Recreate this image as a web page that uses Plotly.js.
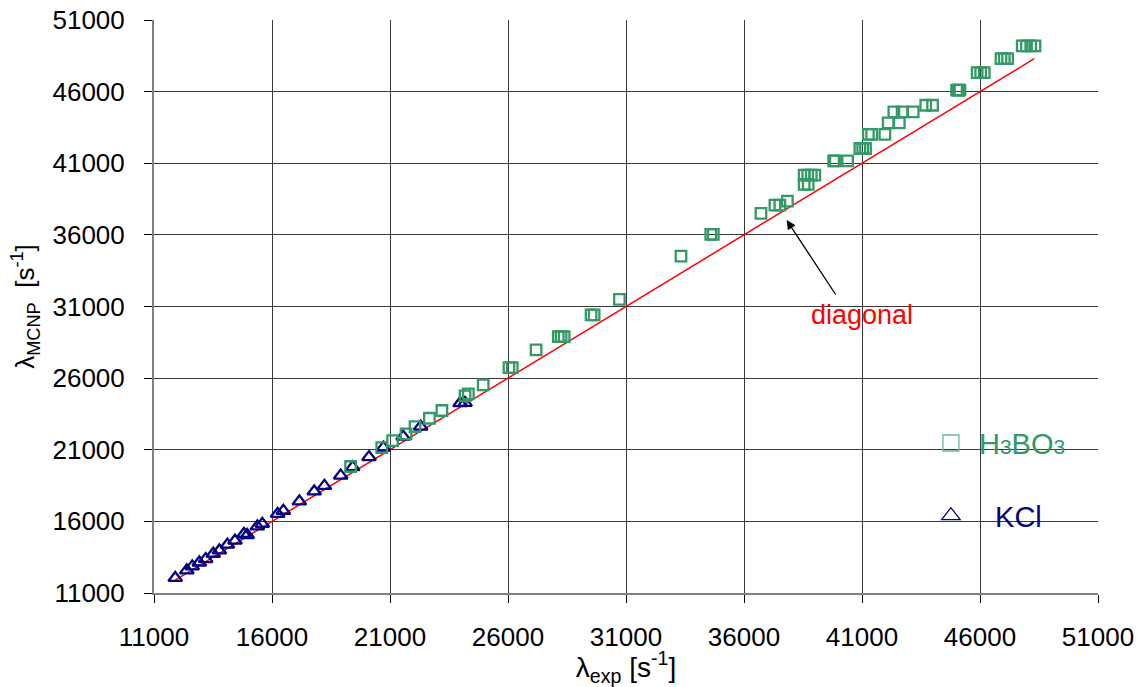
<!DOCTYPE html>
<html>
<head>
<meta charset="utf-8">
<script src="https://cdn.plot.ly/plotly-3.0.1.min.js"></script>
<style>html,body{margin:0;padding:0;background:#fff;}#chart{width:1144px;height:687px;}</style>
</head>
<body>
<div id="chart"></div>
<script>
// KCl measurements
const kclX = [11900, 12390, 12620, 12920, 13190, 13510, 13770, 14110, 14430, 14810, 14950, 15380, 15590, 16240, 16480, 17160, 17790, 18220, 18910, 19420, 20110, 20720, 21560, 22300, 23970, 24180];
const kclY = [12050, 12580, 12860, 13130, 13370, 13740, 13970, 14370, 14650, 15120, 15050, 15650, 15830, 16530, 16740, 17390, 18090, 18480, 19200, 19790, 20490, 21150, 21920, 22620, 24250, 24270];

// H3BO3 measurements
const boX = [19330, 20650, 21110, 21680, 22060, 22670, 23200, 24180, 24320, 24950,
  26040, 26180, 27190, 28130, 28250, 28380, 29520, 29650, 30720, 33330,
  34590, 34700, 36720, 37310, 37520, 37840, 38550, 38720, 38550, 38700,
  38850, 39000, 39800, 39870, 40390, 40910, 41030, 41150, 41270, 41410,
  41970, 42110, 42580, 42350, 42700, 43170, 43700, 43990, 45010, 45080,
  45150, 45880, 46030, 46180, 46890, 47030, 47170, 47790, 47970, 48150, 48330];
const boY = [19830, 21150, 21640, 22110, 22620, 23200, 23740, 24760, 24900, 25530,
  26730, 26730, 27970, 28900, 28900, 28900, 30410, 30410, 31500, 34520,
  36040, 36040, 37500, 38080, 38080, 38360, 39520, 39520, 40170, 40170,
  40170, 40170, 41170, 41170, 41170, 42030, 42030, 42030, 43010, 43010,
  43010, 43820, 43820, 44590, 44590, 44590, 45050, 45050, 46100, 46100,
  46100, 47330, 47330, 47330, 48310, 48310, 48310, 49190, 49190, 49190, 49190];

// diagonal y = x
const diagX = [11900, 48300];
const diagY = [11900, 48300];

// axis ticks
const tickVals = [11000, 16000, 21000, 26000, 31000, 36000, 41000, 46000, 51000];
const tickText = ['11000', '16000', '21000', '26000', '31000', '36000', '41000', '46000', '51000'];

const GREEN = '#339966';
const NAVY = '#000080';
const FONT = 'Liberation Sans, Arial, sans-serif';

const traces = [
  {x: diagX, y: diagY, mode: 'lines', line: {color: '#ff0000', width: 1.5}, showlegend: false, hoverinfo: 'skip'},
  {x: kclX, y: kclY, mode: 'markers', showlegend: false,
   marker: {symbol: 'triangle-up-open', size: 12, color: NAVY, line: {color: NAVY, width: 2.3}}},
  {x: boX, y: boY, mode: 'markers', showlegend: false,
   marker: {symbol: 'square-open', size: 10.5, color: GREEN, line: {color: GREEN, width: 2.3}}},
  {x: [null], y: [null], mode: 'markers', legendgroup: 'a',
   name: '<span style="color:' + GREEN + '">&nbsp;H<span style="font-size:21px">3</span>BO<span style="font-size:21px">3</span></span>',
   marker: {symbol: 'square-open', size: 16, color: '#66bb99', line: {color: '#66bb99', width: 1.3}}},
  {x: [null], y: [null], mode: 'markers', legendgroup: 'b',
   name: '<span style="color:' + NAVY + '">&nbsp;&nbsp;&nbsp;KCl</span>',
   marker: {symbol: 'triangle-up-open', size: 16, color: NAVY, line: {color: NAVY, width: 1.3}}}
];

const axisCommon = {
  range: [11000, 51000],
  tickmode: 'array', tickvals: tickVals, ticktext: tickText,
  showgrid: true, gridcolor: '#3a3a3a', gridwidth: 1,
  showline: true, linecolor: '#808080', linewidth: 2,
  ticks: 'outside', ticklen: 8, tickcolor: '#000', tickwidth: 1,
  tickfont: {family: FONT, size: 26, color: '#000'},
  zeroline: false, fixedrange: true
};

const layout = {
  width: 1144, height: 687,
  margin: {l: 154, r: 46, t: 20, b: 94},
  paper_bgcolor: '#fff', plot_bgcolor: '#fff',
  font: {family: FONT, color: '#000'},
  showlegend: true,
  legend: {x: 0.823, y: 0.306, xanchor: 'left', yanchor: 'top', bgcolor: 'rgba(0,0,0,0)',
           font: {family: FONT, size: 29}, tracegroupgap: 32, itemsizing: 'trace'},
  xaxis: Object.assign({}, axisCommon, {
    ticklabelstandoff: 12,
    title: {text: 'λ<sub>exp</sub> [s<sup>-1</sup>]', font: {family: FONT, size: 28}, standoff: 0}
  }),
  yaxis: Object.assign({}, axisCommon, {
    ticklabelstandoff: 14,
    title: {text: 'λ<sub>MCNP</sub>  [s<sup>-1</sup>]', font: {family: FONT, size: 26}, standoff: 10}
  }),
  annotations: [
    {x: 37807, y: 37034, ax: 39926, ay: 31733, xref: 'x', yref: 'y', axref: 'x', ayref: 'y',
     text: '', showarrow: true, arrowhead: 2, arrowsize: 1.4, arrowwidth: 1.3, arrowcolor: '#000', standoff: 0},
    {x: 40998, y: 30409, xref: 'x', yref: 'y', text: 'diagonal', showarrow: false,
     font: {family: FONT, size: 27, color: '#ff0000'}}
  ]
};

Plotly.newPlot('chart', traces, layout, {displayModeBar: false, staticPlot: true});
</script>
</body>
</html>
